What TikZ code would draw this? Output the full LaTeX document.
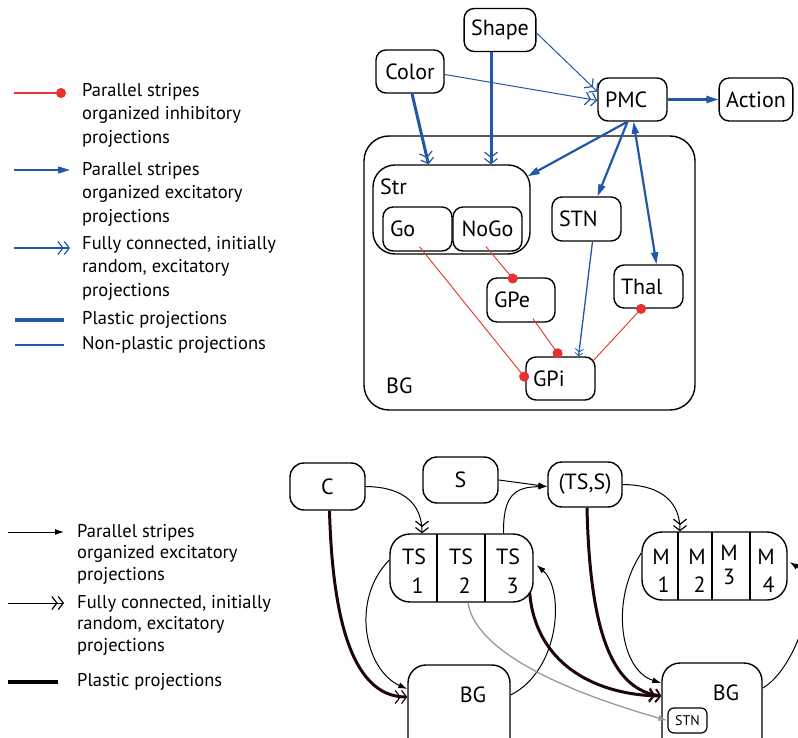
\documentclass[tikz,border=0pt]{standalone}
\usepackage{fontspec}
\setmainfont{PT Sans}
\usetikzlibrary{arrows.meta}
\definecolor{bblue}{HTML}{2257A6}
\definecolor{ired}{HTML}{E8322F}
\definecolor{dmar}{HTML}{1E0508}
\tikzset{
  bx/.style={draw, rounded corners=10pt, line width=1.4pt, inner xsep=7pt, inner ysep=0pt, font=\fontsize{22}{24}\selectfont},
  bxl/.style={bx, align=left},
  lgd/.style={anchor=west, align=left, inner sep=0pt, font=\fontsize{18.5}{23.5}\selectfont},
  lgdb/.style={anchor=west, align=left, inner sep=0pt, font=\fontsize{18.5}{21.5}\selectfont},
  fc/.style={-{Straight Barb[length=5pt,width=13pt,line width=1.2pt] Straight Barb[length=5pt,width=13pt,line width=1.2pt]}},
  tri/.style={-{Triangle[length=12pt,width=7pt]}},
  btri/.style={-{Latex[length=9pt,width=6pt]}},
  inh/.style={ired, line width=0.9pt},
  dot/.style={-{Circle[length=10pt]}},
  thk/.style={line width=3pt},
  thn/.style={line width=1pt},
  med/.style={line width=2.2pt},
}
\begin{document}
\begin{tikzpicture}[x=1pt,y=-1pt]
\useasboundingbox (0,0) rectangle (798,738);

% ---------- top legend ----------
\coordinate (l1a) at (14,93); \coordinate (l1b) at (66,93);
\draw[inh, line width=1.2pt, dot] (l1a) -- (l1b);
\node[lgd] (t1) at (82,115) {Parallel stripes\\organized inhibitory\\projections};
\coordinate (l2a) at (14,170); \coordinate (l2b) at (70,170);
\draw[bblue, line width=1.3pt, tri] (l2a) -- (l2b);
\node[lgd] (t2) at (82,194) {Parallel stripes\\organized excitatory\\projections};
\coordinate (l3a) at (14,248); \coordinate (l3b) at (70,248);
\draw[bblue, line width=1.3pt, fc] (l3a) -- (l3b);
\node[lgd] (t3) at (82,268) {Fully connected, initially\\random, excitatory\\projections};
\coordinate (l4a) at (15,320); \coordinate (l4b) at (64,320);
\draw[bblue, line width=3.5pt] (l4a) -- (l4b);
\node[lgd] (t4) at (82,320) {Plastic projections};
\coordinate (l5a) at (15,345); \coordinate (l5b) at (64,345);
\draw[bblue, line width=1.4pt] (l5a) -- (l5b);
\node[lgd] (t5) at (82,345) {Non-plastic projections};

% ---------- top diagram ----------
\node[draw, rounded corners=25pt, line width=1.4pt, minimum width=331pt, minimum height=274pt] (BGbox) at (529.5,273) {};
\node[anchor=west, inner sep=0pt, font=\fontsize{22}{24}\selectfont] (BGlab) at (386,386) {BG};
\node[draw, rounded corners=22pt, line width=1.4pt, minimum width=157pt, minimum height=89pt] (Str) at (451.5,209.5) {};
\node[anchor=west, inner sep=0pt, font=\fontsize{22}{24}\selectfont] (Strlab) at (380,187) {Str};

\node[bx, minimum width=67pt, minimum height=43pt] (Shape) at (500,30) {Shape};
\node[bx, minimum width=68pt, minimum height=43pt] (Color) at (410,71.5) {Color};
\node[bxl, text width=55pt, minimum height=43pt] (PMC) at (632.5,99.5) {PMC};
\node[bx, minimum width=68pt, minimum height=43pt] (Action) at (756,99.5) {Action};
\node[bxl, text width=55pt, minimum height=44pt] (Go) at (417.5,229) {Go};
\node[bx, minimum width=69pt, minimum height=44pt] (NoGo) at (487.5,229) {NoGo};
\node[bxl, text width=55pt, minimum height=44pt] (STN) at (586.5,219) {STN};
\node[bxl, text width=55pt, minimum height=43pt] (Thal) at (648.5,286.5) {Thal};
\node[bxl, text width=54pt, minimum height=44pt] (GPe) at (521,300) {GPe};
\node[bxl, text width=55pt, minimum height=43pt] (GPi) at (560.5,378.5) {GPi};

\draw[bblue, thk, fc] ([xshift=-9pt]Shape.south) -- ([xshift=39.5pt]Str.north);
\draw[bblue, thk, fc] ([xshift=2pt]Color.south) -- ([xshift=-23pt]Str.north);
\draw[bblue, thn, fc] ([yshift=-3pt]Shape.east) -- ([yshift=8pt]PMC.west);
\draw[bblue, thn, fc] ([yshift=-3pt]Color.east) -- ([yshift=-1pt]PMC.west);
\draw[bblue, med, tri] (PMC.east) -- (Action.west);
\draw[bblue, med, tri] ([xshift=-5pt]PMC.south) -- ([xshift=-3pt,yshift=-12pt]Str.north east);
\draw[bblue, med, tri] ([xshift=-5pt]PMC.south) -- ([xshift=11pt]STN.north);
\draw[bblue, med, {Triangle[length=12pt,width=7pt]}-{Triangle[length=12pt,width=7pt]}] ([xshift=1pt]PMC.south) -- ([xshift=8pt]Thal.north);
\draw[bblue, line width=1.3pt, -{Straight Barb[length=3pt,width=8pt,line width=0.8pt] Straight Barb[length=3pt,width=8pt,line width=0.8pt]}] ([xshift=6pt]STN.south) -- ([xshift=18pt]GPi.north);

\draw[inh, dot] ([xshift=2pt,yshift=5pt]Go.south) -- ([xshift=2pt,yshift=-2pt]GPi.west);
\draw[inh, dot] ([xshift=-1.5pt,yshift=5pt]NoGo.south) -- ([xshift=-5pt,yshift=-5pt]GPe.north);
\draw[inh, dot] ([xshift=12pt,yshift=4pt]GPe.south) -- ([yshift=-1pt]GPi.north);
\draw[inh, {Circle[length=10pt]}-] ([xshift=-4pt,yshift=3.5pt]Thal.south) -- ([xshift=-3pt,yshift=-5pt]GPi.north east);

% ---------- bottom legend ----------
\coordinate (m1a) at (8,532); \coordinate (m1b) at (64,532);
\draw[black, thn, btri] (m1a) -- (m1b);
\node[lgdb] (u1) at (77,554) {Parallel stripes\\organized excitatory\\projections};
\coordinate (m2a) at (8,603); \coordinate (m2b) at (64,603);
\draw[black, thn, fc] (m2a) -- (m2b);
\node[lgdb] (u2) at (77,625) {Fully connected, initially\\random, excitatory\\projections};
\coordinate (m3a) at (8,682); \coordinate (m3b) at (58,682);
\draw[black, line width=3.5pt] (m3a) -- (m3b);
\node[lgdb] (u3) at (77,682) {Plastic projections};

% ---------- bottom diagram ----------
\tikzset{bb/.style={draw, rounded corners=14pt, line width=1.4pt, inner sep=0pt, font=\fontsize{22}{24}\selectfont}}
\node[bb, minimum width=75pt, minimum height=47pt] (C) at (327.5,486.5) {C};
\node[bb, minimum width=75pt, minimum height=46pt] (S) at (460.5,480) {S};
\node[bb, minimum width=74pt, minimum height=45pt] (TSS) at (585,484.5) {(TS,S)};
\node[bb, rounded corners=20pt, minimum width=143pt, minimum height=68pt] (TS) at (461.5,568) {};
\draw[line width=1.4pt] (437,534) -- (437,602) (485,534) -- (485,602);
\node[align=center, inner sep=0pt, font=\fontsize{22}{29}\selectfont] (ts1) at (414,571) {TS\\\hspace*{7pt}1};
\node[align=center, inner sep=0pt, font=\fontsize{22}{29}\selectfont] (ts2) at (461,571) {TS\\\hspace*{7pt}2};
\node[align=center, inner sep=0pt, font=\fontsize{22}{29}\selectfont] (ts3) at (508,571) {TS\\\hspace*{9pt}3};
\node[bb, rounded corners=20pt, minimum width=145pt, minimum height=68pt] (M) at (714.5,566) {};
\draw[line width=1.4pt] (678,532) -- (678,600) (712,532) -- (712,600) (750,532) -- (750,600);
\node[align=center, inner sep=0pt, font=\fontsize{22}{28}\selectfont] (mm1) at (661,571) {M\\\hspace*{5pt}1};
\node[align=center, inner sep=0pt, font=\fontsize{22}{28}\selectfont] (mm2) at (697,571) {M\\\hspace*{5pt}2};
\node[align=center, inner sep=0pt, font=\fontsize{22}{24}\selectfont] (mm3) at (729,565) {M\\3};
\node[align=center, inner sep=0pt, font=\fontsize{22}{28}\selectfont] (mm4) at (766,571) {M\\\hspace*{5pt}4};
\node[bb, rounded corners=18pt, minimum width=102pt, minimum height=94pt] (BGL) at (459,712) {};
\node[inner sep=0pt, font=\fontsize{22}{24}\selectfont] (BGLlab) at (473,695) {BG};
\node[bb, rounded corners=18pt, minimum width=100pt, minimum height=96pt] (BGR) at (712,711) {};
\node[inner sep=0pt, font=\fontsize{22}{24}\selectfont] (BGRlab) at (726,693) {BG};
\node[draw, rounded corners=6pt, line width=1.2pt, minimum width=39pt, minimum height=25pt, inner sep=0pt, font=\fontsize{14}{16}\selectfont] (STNs) at (687.5,720.5) {STN};

\draw[thn, fc] (C.east) .. controls (405,487) and (422,505) .. ([xshift=-39.5pt]TS.north);
\draw[thn, btri] (S.east) -- ([yshift=-2pt]TSS.west);
\draw[thn, btri] ([xshift=42pt]TS.north) .. controls (503,495) and (515,487) .. ([yshift=-2pt]TSS.west);
\draw[thn, fc] (TSS.east) .. controls (665,485) and (680,505) .. ([xshift=-34.5pt]M.north);
\draw[dmar, thk, fc] ([xshift=2pt]C.south) .. controls (333,640) and (360,697) .. ([yshift=15pt]BGL.west);
\draw[thn, btri] ([yshift=8pt]TS.west) .. controls (350,600) and (365,670) .. ([yshift=23pt]BGL.west);
\draw[thn, btri] ([yshift=17pt]BGL.east) .. controls (560,670) and (565,590) .. ([xshift=3pt,yshift=3pt]TS.east);
\draw[dmar, thk, fc] ([xshift=-4pt,yshift=10pt]TS.south east) .. controls (535,660) and (590,695) .. ([yshift=15pt]BGR.west);
\draw[dmar, thk, fc] ([xshift=2pt]TSS.south) .. controls (590,640) and (615,690) .. ([yshift=15pt]BGR.west);
\draw[thn, btri] ([yshift=13pt]M.west) .. controls (610,600) and (620,670) .. ([yshift=28pt]BGR.west);
\draw[thn, btri] ([yshift=23pt]BGR.east) .. controls (795,670) and (825,585) .. ([xshift=2pt,yshift=4pt]M.east);
\draw[gray!80, line width=1.3pt, btri] ([xshift=6.5pt]TS.south) .. controls (475,650) and (560,690) .. (STNs.west);
\end{tikzpicture}
\end{document}
